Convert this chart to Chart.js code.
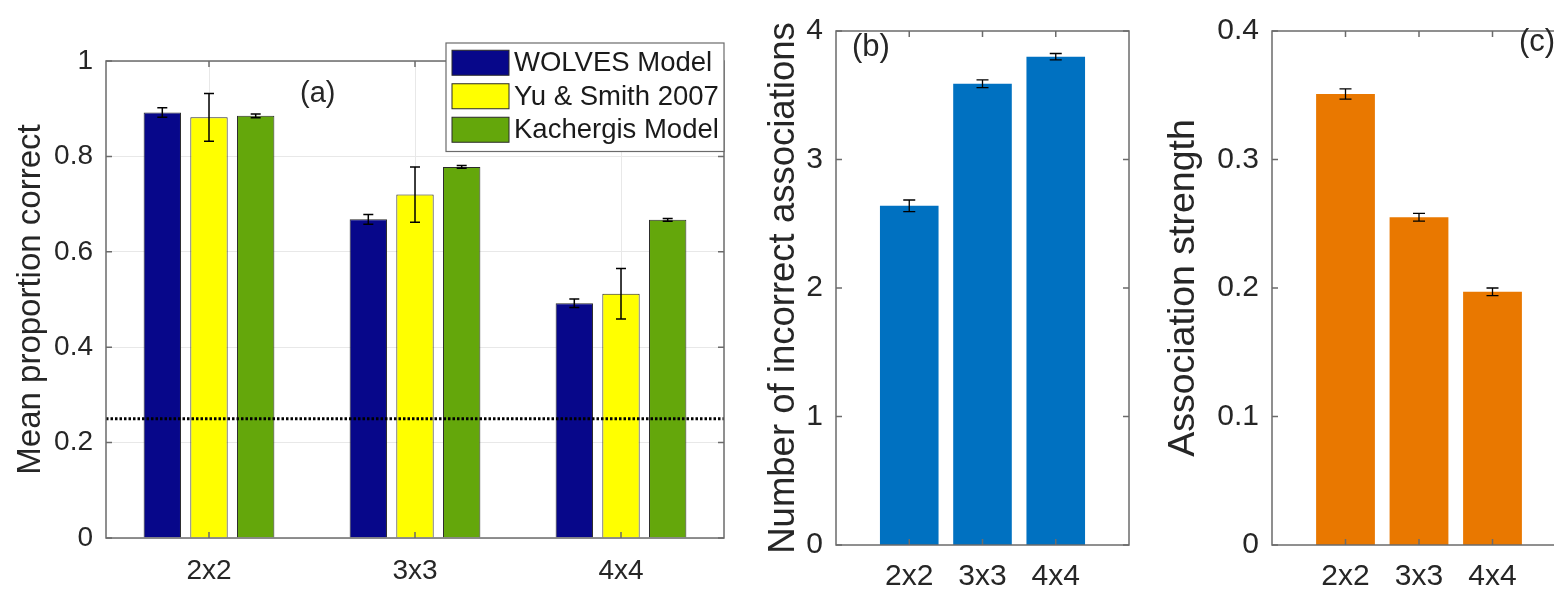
<!DOCTYPE html>
<html>
<head>
<meta charset="utf-8">
<script src="https://cdn.jsdelivr.net/npm/chart.js@4"></script>
<style>
  html, body { margin: 0; padding: 0; background: #fff; overflow: hidden; }
  body { width: 1554px; height: 592px; position: relative; }
  canvas { position: absolute; top: 0; }
</style>
</head>
<body>
<canvas id="chartA" width="740" height="592" style="left:0px"></canvas>
<canvas id="chartB" width="400" height="592" style="left:750px"></canvas>
<canvas id="chartC" width="430" height="592" style="left:1150px"></canvas>
<script>
const conditions = ['2x2', '3x3', '4x4'];

// (a) mean proportion correct, per model
const wolvesCorrect = [0.892, 0.668, 0.492];
const wolvesErr = [0.010, 0.010, 0.009];
const yuSmithCorrect = [0.882, 0.720, 0.512];
const yuSmithErr = [0.050, 0.058, 0.053];
const kachergisCorrect = [0.885, 0.778, 0.667];
const kachergisErr = [0.004, 0.003, 0.003];
const chanceLevel = 0.25;
const correctTicks = [0, 0.2, 0.4, 0.6, 0.8, 1];

// (b) number of incorrect associations
const incorrectCounts = [2.64, 3.59, 3.80];
const incorrectErr = [0.045, 0.030, 0.025];
const incorrectTicks = [0, 1, 2, 3, 4];

// (c) association strength
const strengthValues = [0.351, 0.255, 0.197];
const strengthErr = [0.004, 0.003, 0.003];
const strengthTicks = [0, 0.1, 0.2, 0.3, 0.4];

Chart.defaults.font.family = "'Liberation Sans', Arial, sans-serif";
Chart.defaults.color = '#262626';

const TEXT = '#262626';
const AXIS = '#6b6b6b';

// panels b and c use an x range of [0, 4], so pad the categories with empty slots
const pad = arr => [null, ...arr, null];
const paddedLabels = ['', ...conditions, ''];

// vertical error bars with caps, drawn over each bar
const errorBars = {
  id: 'errorBars',
  afterDatasetsDraw(chart, args, opts) {
    const { ctx } = chart;
    const yScale = chart.scales.y;
    ctx.save();
    ctx.strokeStyle = '#000';
    ctx.lineWidth = opts.width;
    chart.data.datasets.forEach((ds, di) => {
      if (!ds.errors) return;
      chart.getDatasetMeta(di).data.forEach((bar, i) => {
        const v = ds.data[i], e = ds.errors[i];
        if (v == null || e == null) return;
        const x = bar.x;
        const top = yScale.getPixelForValue(v + e);
        const bot = yScale.getPixelForValue(v - e);
        ctx.beginPath();
        ctx.moveTo(x, top); ctx.lineTo(x, bot);
        ctx.moveTo(x - opts.cap, top); ctx.lineTo(x + opts.cap, top);
        ctx.moveTo(x - opts.cap, bot); ctx.lineTo(x + opts.cap, bot);
        ctx.stroke();
      });
    });
    ctx.restore();
  }
};

// dotted chance line across panel a
const chanceLine = {
  id: 'chanceLine',
  afterDatasetsDraw(chart, args, opts) {
    if (opts.value == null) return;
    const { ctx, chartArea } = chart;
    const y = chart.scales.y.getPixelForValue(opts.value);
    ctx.save();
    ctx.strokeStyle = '#000';
    ctx.lineWidth = 3;
    ctx.setLineDash([2.5, 2]);
    ctx.beginPath();
    ctx.moveTo(chartArea.left, y);
    ctx.lineTo(chartArea.right, y);
    ctx.stroke();
    ctx.restore();
  }
};

// boxed axes with inward tick marks on every side
const axesBox = {
  id: 'axesBox',
  afterDatasetsDraw(chart, args, opts) {
    const { ctx, chartArea: a } = chart;
    const xs = chart.scales.x, ys = chart.scales.y;
    const len = opts.tickLength;
    ctx.save();
    ctx.strokeStyle = AXIS;
    ctx.lineWidth = 1.5;
    ctx.strokeRect(a.left, a.top, a.right - a.left, a.bottom - a.top);
    ctx.beginPath();
    ys.ticks.forEach(t => {
      const y = ys.getPixelForValue(t.value);
      ctx.moveTo(a.left, y); ctx.lineTo(a.left + len, y);
      ctx.moveTo(a.right, y); ctx.lineTo(a.right - len, y);
    });
    xs.ticks.forEach((t, i) => {
      if (xs.getLabelForValue(t.value) === '') return;
      const x = xs.getPixelForTick(i);
      ctx.moveTo(x, a.bottom); ctx.lineTo(x, a.bottom - len);
      ctx.moveTo(x, a.top); ctx.lineTo(x, a.top + len);
    });
    ctx.stroke();
    ctx.restore();
  }
};

// panel letter
const panelTag = {
  id: 'panelTag',
  afterDraw(chart, args, opts) {
    const { ctx } = chart;
    ctx.save();
    ctx.fillStyle = TEXT;
    ctx.font = opts.size + "px 'Liberation Sans', Arial, sans-serif";
    ctx.textBaseline = 'alphabetic';
    ctx.fillText(opts.text, opts.x, opts.y);
    ctx.restore();
  }
};

// boxed legend sitting over the top-right corner of panel a
const boxLegend = {
  id: 'boxLegend',
  afterDraw(chart, args, opts) {
    const { ctx, chartArea } = chart;
    const sets = chart.data.datasets;
    const left = opts.left, top = opts.top;
    const right = chartArea.right;
    const h = opts.rowHeight * sets.length + 8;
    ctx.save();
    ctx.fillStyle = '#fff';
    ctx.fillRect(left, top, right - left, h);
    ctx.strokeStyle = AXIS;
    ctx.lineWidth = 1.2;
    ctx.strokeRect(left, top, right - left, h);
    ctx.font = opts.size + "px 'Liberation Sans', Arial, sans-serif";
    ctx.textBaseline = 'middle';
    sets.forEach((ds, i) => {
      const cy = top + 3 + opts.rowHeight * (i + 0.5);
      ctx.fillStyle = ds.backgroundColor;
      ctx.fillRect(left + 6, cy - 12.5, 57, 25);
      ctx.strokeStyle = '#2a2a2a';
      ctx.lineWidth = 1;
      ctx.strokeRect(left + 6, cy - 12.5, 57, 25);
      ctx.fillStyle = '#1a1a1a';
      ctx.fillText(ds.label, left + 68, cy + 1);
    });
    ctx.restore();
  }
};

function fixedTicks(values) {
  return scale => { scale.ticks = values.map(v => ({ value: v })); };
}

// (a)
new Chart(document.getElementById('chartA'), {
  type: 'bar',
  data: {
    labels: conditions,
    datasets: [
      { label: 'WOLVES Model', data: wolvesCorrect, errors: wolvesErr, backgroundColor: '#07078a' },
      { label: 'Yu & Smith 2007', data: yuSmithCorrect, errors: yuSmithErr, backgroundColor: '#ffff00' },
      { label: 'Kachergis Model', data: kachergisCorrect, errors: kachergisErr, backgroundColor: '#64a70b' }
    ].map(d => Object.assign(d, { borderColor: '#2a2a2a', borderWidth: 1, categoryPercentage: 0.68, barPercentage: 0.8 }))
  },
  options: {
    responsive: false,
    animation: false,
    layout: { padding: { top: 61, right: 16, bottom: 0, left: 0 } },
    plugins: {
      legend: { display: false },
      tooltip: { enabled: false },
      errorBars: { width: 1.5, cap: 5 },
      chanceLine: { value: chanceLevel },
      axesBox: { tickLength: 6 },
      panelTag: { text: '(a)', x: 300, y: 102, size: 29 },
      boxLegend: { left: 446, top: 43, rowHeight: 33.5, size: 27.5 }
    },
    scales: {
      x: {
        offset: true,
        grid: { offset: false, color: '#e8e8e8', drawTicks: false },
        border: { display: false },
        ticks: { font: { size: 28 }, padding: 16, color: TEXT, autoSkip: false, maxRotation: 0 },
        afterFit: s => { s.height = 54; }
      },
      y: {
        min: 0, max: 1,
        grid: { color: '#e8e8e8', drawTicks: false },
        border: { display: false },
        afterBuildTicks: fixedTicks(correctTicks),
        ticks: { font: { size: 28 }, padding: 13, color: TEXT, callback: v => String(v) },
        title: { display: true, text: 'Mean proportion correct', font: { size: 33 }, color: TEXT, padding: { top: 11, bottom: 0 } },
        afterFit: s => { s.width = 106; }
      }
    }
  },
  plugins: [errorBars, chanceLine, axesBox, panelTag, boxLegend]
});

function singlePanel(id, values, errors, color, ticks, max, title, titleSize, titlePad, tag, yWidth, rightPad) {
  return new Chart(document.getElementById(id), {
    type: 'bar',
    data: {
      labels: paddedLabels,
      datasets: [{
        data: pad(values), errors: pad(errors),
        backgroundColor: color, borderWidth: 0,
        categoryPercentage: 1, barPercentage: 0.8
      }]
    },
    options: {
      responsive: false,
      animation: false,
      layout: { padding: { top: 21, right: rightPad, bottom: 0, left: 0 } },
      plugins: {
        legend: { display: false },
        tooltip: { enabled: false },
        errorBars: { width: 1.3, cap: 6 },
        axesBox: { tickLength: 6 },
        panelTag: tag
      },
      scales: {
        x: {
          offset: false,
          grid: { display: false, drawTicks: false },
          border: { display: false },
          ticks: { font: { size: 30 }, padding: 14, color: TEXT, autoSkip: false, maxRotation: 0 },
          afterFit: s => { s.height = 47; }
        },
        y: {
          min: 0, max: max,
          grid: { display: false, drawTicks: false },
          border: { display: false },
          afterBuildTicks: fixedTicks(ticks),
          ticks: { font: { size: 30 }, padding: 13, color: TEXT, callback: v => String(v) },
          title: { display: true, text: title, font: { size: titleSize }, color: TEXT, padding: { top: titlePad, bottom: 0 } },
          afterFit: s => { s.width = yWidth; }
        }
      }
    },
    plugins: [errorBars, axesBox, panelTag]
  });
}

// (b)
singlePanel('chartB', incorrectCounts, incorrectErr, '#0071c1', incorrectTicks, 4,
  'Number of incorrect associations', 36.5, 12,
  { text: '(b)', x: 102, y: 56, size: 31 }, 86, 21);

// (c)
singlePanel('chartC', strengthValues, strengthErr, '#e97800', strengthTicks, 0.4,
  'Association strength', 37.5, 11,
  { text: '(c)', x: 369, y: 51, size: 31 }, 122, 12);
</script>
</body>
</html>
